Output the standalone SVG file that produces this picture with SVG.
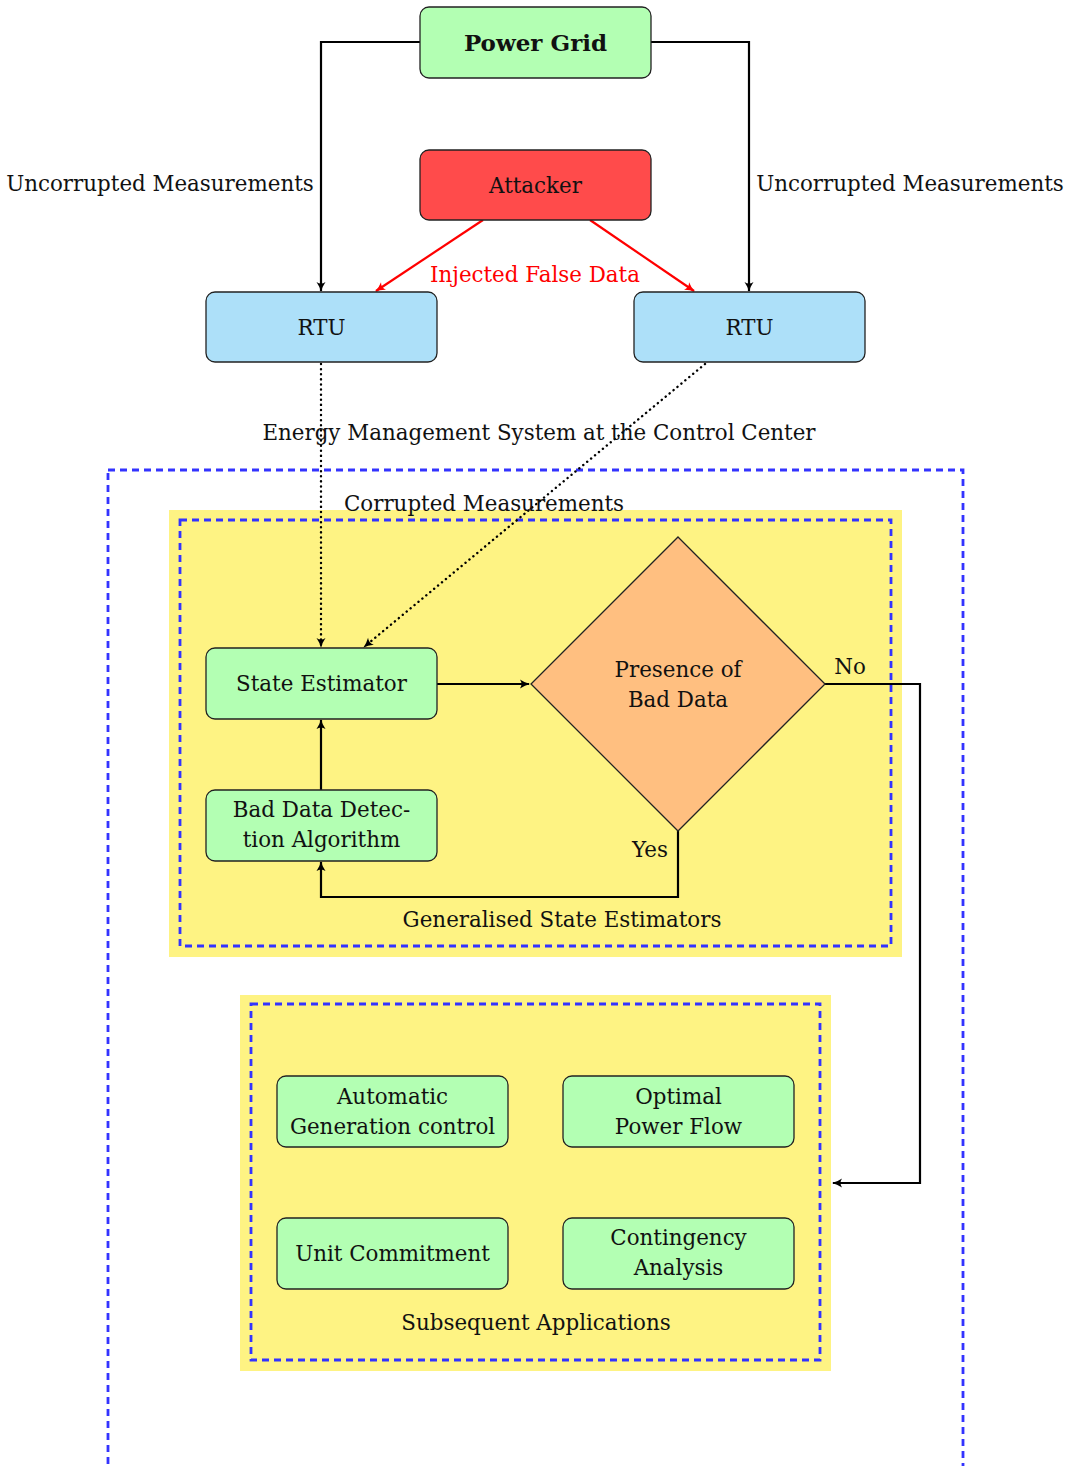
<svg xmlns="http://www.w3.org/2000/svg" width="1069" height="1466" viewBox="0 0 1069 1466">
<style>
text{font-family:"DejaVu Serif","Liberation Serif",serif;font-size:21.4px;fill:#111;text-anchor:middle}
.node{stroke:#222;stroke-width:1.3}
.green{fill:#b3ffb3}
.blue{fill:#ade0f9}
.red{fill:#ff4b4b}
.orange{fill:#ffbf80}
.yellow{fill:#fef383}
.dash{fill:none;stroke:#3333ff;stroke-width:2.8;stroke-dasharray:7 5}
.edge{fill:none;stroke:#000;stroke-width:2.2}
.redge{fill:none;stroke:#ff0000;stroke-width:2.2}
.dot{fill:none;stroke:#000;stroke-width:2.4;stroke-dasharray:0.1 5;stroke-linecap:round}
</style>
<defs>
<marker id="ah" markerWidth="12" markerHeight="12" refX="10" refY="6" orient="auto" markerUnits="userSpaceOnUse">
<path d="M1,1.5 Q6,5 11,6 Q6,7 1,10.5 Q4,6 1,1.5Z" fill="#000"/>
</marker>
<marker id="ahr" markerWidth="12" markerHeight="12" refX="10" refY="6" orient="auto" markerUnits="userSpaceOnUse">
<path d="M1,1.5 Q6,5 11,6 Q6,7 1,10.5 Q4,6 1,1.5Z" fill="#ff0000"/>
</marker>
</defs>

<g id="containers">
<rect class="dash" x="108" y="470" width="855" height="1010"/>
<rect class="yellow" x="169" y="510" width="733" height="447"/>
<rect class="dash" x="180" y="520" width="711" height="426"/>
<rect class="yellow" x="240" y="995" width="591" height="376"/>
<rect class="dash" x="251" y="1004" width="569" height="356"/>
</g>

<g id="connectors">
<path class="edge" d="M420,42 H321 V291" marker-end="url(#ah)"/>
<path class="edge" d="M651,42 H749 V291" marker-end="url(#ah)"/>
<path class="redge" d="M483,220 L376,291" marker-end="url(#ahr)"/>
<path class="redge" d="M590,220 L694,291" marker-end="url(#ahr)"/>
<path class="dot" d="M321,364 V647" marker-end="url(#ah)"/>
<path class="dot" d="M705,364 L364,647" marker-end="url(#ah)"/>
<path class="edge" d="M437,684 H529" marker-end="url(#ah)"/>
<path class="edge" d="M321,790 V720" marker-end="url(#ah)"/>
<path class="edge" d="M678,831 V897 H321 V862" marker-end="url(#ah)"/>
<path class="edge" d="M825,684 H920 V1183 H833" marker-end="url(#ah)"/>
</g>

<g id="labels">
<text x="160" y="191">Uncorrupted Measurements</text>
<text x="910" y="191">Uncorrupted Measurements</text>
<text x="535" y="282" style="fill:#ff0000">Injected False Data</text>
<text x="539" y="440">Energy Management System at the Control Center</text>
<text x="484" y="511">Corrupted Measurements</text>
<text x="850" y="674">No</text>
<text x="650" y="857">Yes</text>
<text x="562" y="927">Generalised State Estimators</text>
<text x="536" y="1330">Subsequent Applications</text>
</g>

<g id="power-grid">
<rect class="node green" x="420" y="7" width="231" height="71" rx="9"/>
<text x="535.5" y="51" style="font-weight:bold;font-size:23px">Power Grid</text>
</g>
<g id="attacker">
<rect class="node red" x="420" y="150" width="231" height="70" rx="9"/>
<text x="535.5" y="193">Attacker</text>
</g>
<g id="rtu-left">
<rect class="node blue" x="206" y="292" width="231" height="70" rx="9"/>
<text x="321.5" y="335">RTU</text>
</g>
<g id="rtu-right">
<rect class="node blue" x="634" y="292" width="231" height="70" rx="9"/>
<text x="749.5" y="335">RTU</text>
</g>
<g id="state-estimator">
<rect class="node green" x="206" y="648" width="231" height="71" rx="9"/>
<text x="321.5" y="691">State Estimator</text>
</g>
<g id="bad-data-detection">
<rect class="node green" x="206" y="790" width="231" height="71" rx="9"/>
<text x="321.5" y="817">Bad Data Detec-</text>
<text x="321.5" y="847">tion Algorithm</text>
</g>
<g id="presence-bad-data">
<polygon class="node orange" points="678,537 825,684 678,831 531,684"/>
<text x="678" y="677">Presence of</text>
<text x="678" y="707">Bad Data</text>
</g>
<g id="agc">
<rect class="node green" x="277" y="1076" width="231" height="71" rx="9"/>
<text x="392.5" y="1104">Automatic</text>
<text x="392.5" y="1134">Generation control</text>
</g>
<g id="opf">
<rect class="node green" x="563" y="1076" width="231" height="71" rx="9"/>
<text x="678.5" y="1104">Optimal</text>
<text x="678.5" y="1134">Power Flow</text>
</g>
<g id="unit-commitment">
<rect class="node green" x="277" y="1218" width="231" height="71" rx="9"/>
<text x="392.5" y="1261">Unit Commitment</text>
</g>
<g id="contingency">
<rect class="node green" x="563" y="1218" width="231" height="71" rx="9"/>
<text x="678.5" y="1245">Contingency</text>
<text x="678.5" y="1275">Analysis</text>
</g>
</svg>
